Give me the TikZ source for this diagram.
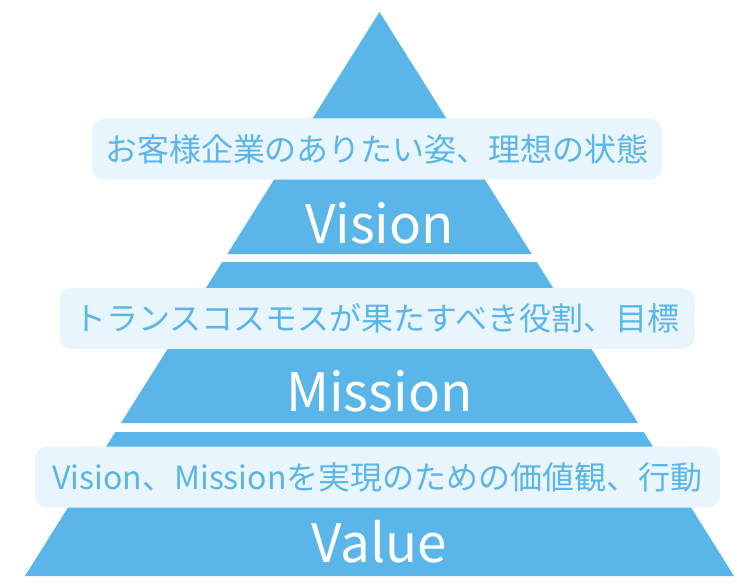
\documentclass[tikz,border=0pt]{standalone}
\usepackage{fontspec}
\setmainfont{Noto Sans CJK JP}
\usepackage{tikz}
\usetikzlibrary{positioning}
\tikzset{
  tierlabel/.style={text=white, font=\fontsize{53}{60}\selectfont, anchor=base},
  notebox/.style={fill=notefill, rounded corners=12pt, text=pyrblue,
    font=\fontsize{32}{36}\selectfont, minimum height=61pt, inner sep=0pt},
}

\begin{document}
\begin{tikzpicture}[x=1pt,y=-1pt]
\definecolor{pyrblue}{HTML}{5AB5E8}\definecolor{notefill}{HTML}{E9F5FC}
\useasboundingbox (0,0) rectangle (737,586);
% three tiers of the pyramid
\fill[pyrblue] (379.5,12) -- (531.7,254) -- (227.3,254) -- cycle;
\fill[pyrblue] (222.2,262) -- (536.8,262) -- (638,423) -- (121,423) -- cycle;
\fill[pyrblue] (115.3,432) -- (643.7,432) -- (734,576) -- (25,576) -- cycle;
% tier names
\node[tierlabel] (vision) at (379.5,243) {Vision};
\node[tierlabel] (mission) at (379.5,411) {Mission};
\node[tierlabel] (value) at (379.5,562) {Value};
% notes over each tier
\node[notebox, minimum width=570pt] (visionnote) at (377,149) {お客様企業のありたい姿、理想の状態};
\node[notebox, minimum width=635pt] (missionnote) at (377,318.5) {トランスコスモスが果たすべき役割、目標};
\node[notebox, minimum width=685pt] (valuenote) at (377.5,477) {Vision、Missionを実現のための価値観、行動};
\end{tikzpicture}
\end{document}
